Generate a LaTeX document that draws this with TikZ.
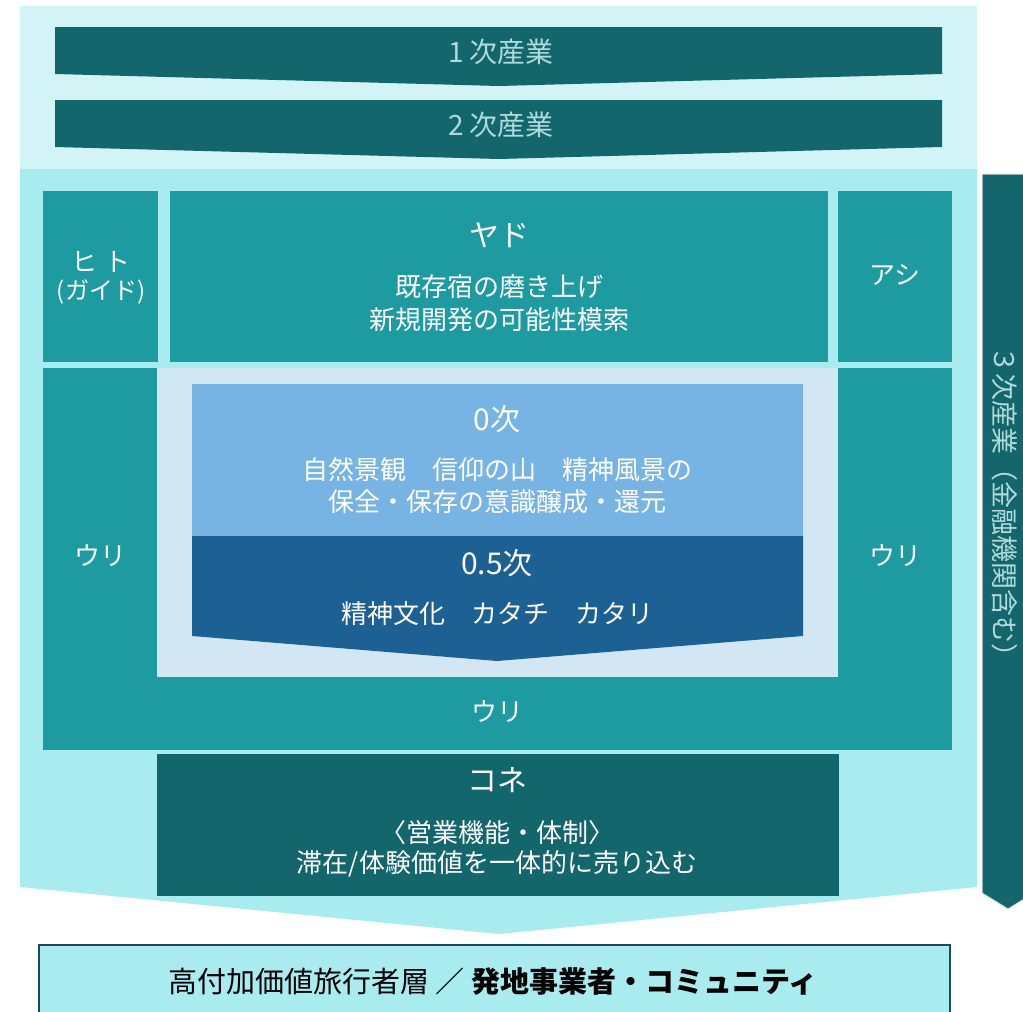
\documentclass[tikz,border=0pt]{standalone}
\usepackage{fontspec}
\setmainfont{Noto Sans CJK JP}
\definecolor{bandhell}{HTML}{D3F4F7}
\definecolor{bandcyan}{HTML}{A8ECF0}
\definecolor{tealdunkel}{HTML}{13666B}
\definecolor{tealmittel}{HTML}{1E9BA0}
\definecolor{blauhell}{HTML}{D2E6F4}
\definecolor{blaumittel}{HTML}{77B4E3}
\definecolor{blaudunkel}{HTML}{1D6194}
\definecolor{schrifthell}{HTML}{B0DADB}
\definecolor{rahmen}{HTML}{1B4A5C}
\tikzset{
	titel/.style={text=white, inner sep=0pt, font=\fontsize{15}{17}\selectfont},
	zeile/.style={text=white, inner sep=0pt, font=\fontsize{13}{15}\selectfont},
	stufe/.style={text=schrifthell, inner sep=0pt, font=\fontsize{14}{16}\selectfont}
}
\begin{document}
\begin{tikzpicture}[x=0.5pt, y=-0.5pt]
	\useasboundingbox (0,0) rectangle (1023,1012);
	% Hintergrund oben (1. und 2. Stufe)
	\fill[bandhell] (20, 6) rectangle (977, 169);
	\fill[tealdunkel] (55, 27) -- (942, 27) -- (942, 74) -- (499, 86) -- (55, 74) -- cycle;
	\node[stufe] (ichiji) at (501, 52) {1\hspace{0.2em}次産業};
	\fill[tealdunkel] (55, 100) -- (942, 100) -- (942, 147) -- (499, 159) -- (55, 147) -- cycle;
	\node[stufe] (niji) at (501, 125) {2\hspace{0.2em}次産業};

	% Hintergrund Mitte
	\fill[bandcyan] (20, 169) -- (977, 169) -- (977, 887) -- (499, 934) -- (20, 887) -- cycle;

	% obere Reihe
	\fill[tealmittel] (43, 191) rectangle (158, 362);
	\node[zeile] (hito) at (101, 262) {ヒ\hspace{0.25em}ト};
	\node[zeile, font=\fontsize{12}{14}\selectfont] (guide) at (101, 292) {(ガイド)};
	\fill[tealmittel] (170, 191) rectangle (828, 362);
	\node[titel] (yado) at (499, 235) {ヤド};
	\node[zeile] (yado1) at (499, 287) {既存宿の磨き上げ};
	\node[zeile] (yado2) at (499, 320) {新規開発の可能性模索};
	\fill[tealmittel] (838, 191) rectangle (952, 362);
	\node[zeile] (ashi) at (895, 275) {アシ};

	% Uri
	\fill[tealmittel] (43, 368) rectangle (952, 750);
	\fill[blauhell] (157, 368) rectangle (838, 677);
	\node[zeile] (urilinks) at (100, 556) {ウリ};
	\node[zeile] (urirechts) at (895, 556) {ウリ};
	\node[zeile] (uriunten) at (497, 712) {ウリ};

	% 0次 und 0.5次
	\fill[blaumittel] (192, 384) rectangle (803, 536);
	\node[titel] (nullji) at (497, 419) {0次};
	\node[zeile] (nullji1) at (497, 470) {自然景観　信仰の山　精神風景の};
	\node[zeile] (nullji2) at (497, 502) {保全・保存の意識醸成・還元};
	\fill[blaudunkel] (192, 536) -- (803, 536) -- (803, 636) -- (497, 661) -- (192, 636) -- cycle;
	\node[titel] (halbji) at (497, 563) {0.5次};
	\node[zeile] (halbji1) at (497, 614) {精神文化　カタチ　カタリ};

	% Kone
	\fill[tealdunkel] (157, 754) rectangle (839, 896);
	\node[titel] (kone) at (497, 780) {コネ};
	\node[zeile] (kone1) at (497, 833) {〈営業機能・体制〉};
	\node[zeile] (kone2) at (497, 864) {滞在/体験価値を一体的に売り込む};

	% 3次産業 rechts
	\filldraw[fill=tealdunkel, draw=gray!25, line width=0.5pt] (982, 174) -- (1034, 174) -- (1034, 893) -- (1008, 909) -- (982, 893) -- cycle;
	\node[stufe, font=\fontsize{13.5}{15}\selectfont, rotate=-90] (sanji) at (1005, 508) {３次産業（金融機関含む）};

	% Zielgruppe unten
	\filldraw[fill=bandcyan, draw=rahmen, line width=1.25pt] (39, 945) rectangle (950, 1030);
	\node[inner sep=0pt, font=\fontsize{14.5}{16}\selectfont] (ziel) at (493, 982) {高付加価値旅行者層 ／ \textbf{発地事業者・コミュニティ}};
\end{tikzpicture}
\end{document}
